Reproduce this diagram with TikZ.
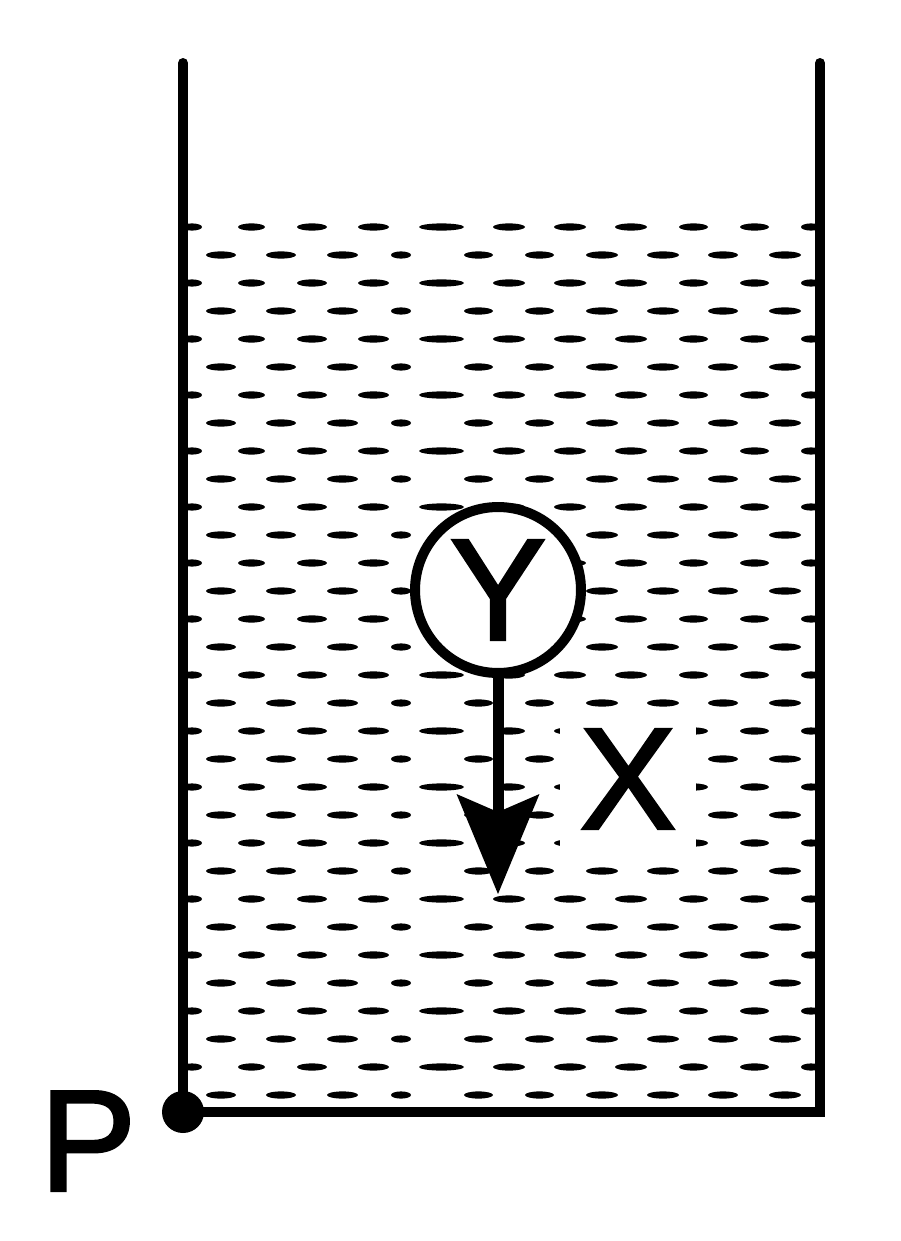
\documentclass[tikz,border=0pt]{standalone}
\usepackage{fontspec}
\setmainfont{Liberation Sans}
\newfontfamily\letterfont[FakeBold=2]{Liberation Sans}
\usetikzlibrary{arrows.meta}

% dashes of the liquid, as from/to pairs
\newcommand{\dashesA}{182/202,238/265,297/327,358/389,419/464,493/525,554/586,615/647,679/708,740/769,801/821}
\newcommand{\dashesB}{206/236,266/296,327/358,391/411,464/493,525/554,586/618,647/679,708/738,769/801}

\begin{document}
\begin{tikzpicture}[x=0.02cm,y=-0.02cm,
	wall/.style={line width=0.2cm,line join=miter,line cap=round},
	letter/.style={font=\letterfont\fontsize{82}{82}\selectfont,inner sep=0pt},
	]
	\useasboundingbox (0,0) rectangle (900,1241);
	% liquid
	\foreach \k in {0,...,31}{
		\ifodd\k \let\pat\dashesB \else \let\pat\dashesA \fi
		\foreach \a/\b in \pat
			\fill ({(\a+\b)/2},{227+28*\k}) ellipse [x radius={(\b-\a)/2},y radius=3.6];
	}
	% labels and body
	\node[letter,fill=white,inner xsep=0.4cm,inner ysep=0.4cm] (X) at (628,779) {X};
	\node[letter,circle,draw,fill=white,line width=0.2cm,minimum size=3.32cm] (Y) at (498,590) {Y};
	\coordinate (tip) at (498,894);
	\draw[line width=0.22cm,-{Stealth[length=2cm,width=1.66cm,inset=0.36cm,line width=0pt]}] (Y.south) -- (tip);
	% vessel
	\coordinate (tl) at (183,63);
	\coordinate (bl) at (183,1112);
	\coordinate (br) at (820,1112);
	\coordinate (tr) at (820,63);
	\draw[wall] (tl) -- (bl) -- (br) -- (tr);
	\fill (bl) circle (21);
	\node[letter] (P) at (88,1141) {P};
\end{tikzpicture}
\end{document}
